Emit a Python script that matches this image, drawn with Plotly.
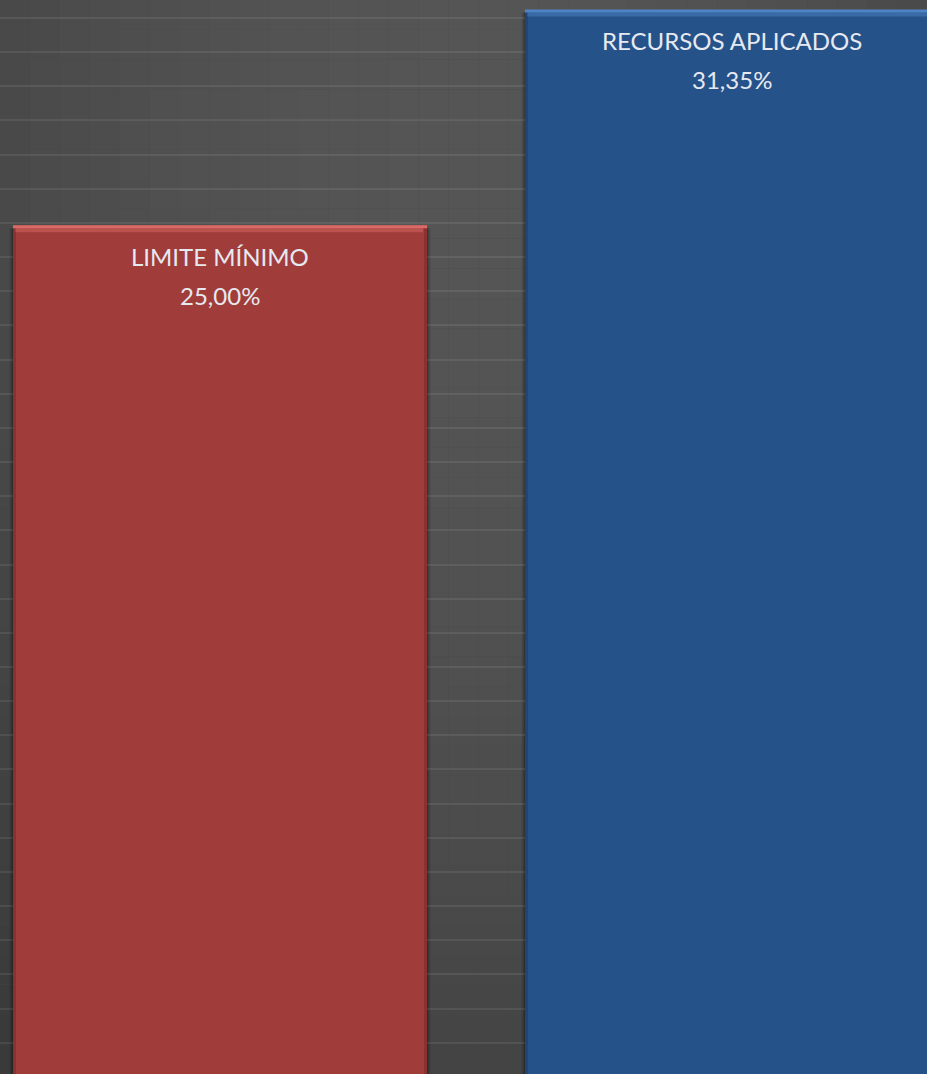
import math
import plotly.graph_objects as go

# Data
categories = ["LIMITE MÍNIMO", "RECURSOS APLICADOS"]
values = [25.00, 31.35]
bar_colors = ["#A03D3B", "#26528A"]
highlight_colors = ["#DA6E6A", "#5087C8"]


def pct_br(v):
    return f"{v:.2f}".replace(".", ",") + "%"


W, H = 927, 1074
x_range = [-0.4297, 1.3809]
y_range = [0.02, 31.63]
bar_width = 0.8086
px_x = (x_range[1] - x_range[0]) / W   # one pixel in x units
px_y = (y_range[1] - y_range[0]) / H   # one pixel in y units

fig = go.Figure()
fig.add_trace(go.Bar(
    x=list(range(len(categories))),
    y=values,
    width=bar_width,
    marker=dict(color=bar_colors, line=dict(width=0)),
    hoverinfo="skip",
    showlegend=False,
))

shapes = []

# Dark backdrop: lighter toward the upper middle, darker toward the lower left
nx, ny = 31, 36
for i in range(nx):
    for j in range(ny):
        px = (i + 0.5) / nx * W
        py = (1 - (j + 0.5) / ny) * H
        d = math.hypot(px - 475, 0.6 * (py - 150))
        g = int(round(85 - 5.6e-5 * d * d))
        g = max(58, min(85, g))
        shapes.append(dict(
            type="rect", xref="paper", yref="paper", layer="below",
            x0=i / nx, x1=(i + 1) / nx, y0=j / ny, y1=(j + 1) / ny,
            fillcolor=f"rgb({g},{g},{g})", line=dict(width=0),
        ))

for i, v in enumerate(values):
    half = bar_width / 2
    left, right = i - half, i + half
    # soft drop shadow just outside both sides
    for k, op in enumerate([0.35, 0.22, 0.12, 0.05]):
        for x0 in (left - (k + 1) * px_x, right + k * px_x):
            shapes.append(dict(
                type="rect", xref="x", yref="y", layer="below",
                x0=x0, x1=x0 + px_x, y0=y_range[0], y1=v - 3 * px_y,
                fillcolor="black", line=dict(width=0), opacity=op,
            ))
    # bevel highlight along the top edge
    shapes.append(dict(
        type="rect", xref="x", yref="y", layer="above",
        x0=left, x1=right, y0=v - 3 * px_y, y1=v,
        fillcolor=highlight_colors[i], line=dict(width=0), opacity=0.95,
    ))
    shapes.append(dict(
        type="rect", xref="x", yref="y", layer="above",
        x0=left + 2 * px_x, x1=right - 4 * px_x, y0=v - 7 * px_y, y1=v - 3 * px_y,
        fillcolor=highlight_colors[i], line=dict(width=0), opacity=0.45,
    ))
    # slightly shaded inner edges
    for x0 in (left, right - 3 * px_x):
        shapes.append(dict(
            type="rect", xref="x", yref="y", layer="above",
            x0=x0, x1=x0 + 3 * px_x, y0=y_range[0], y1=v - 3 * px_y,
            fillcolor="black", line=dict(width=0), opacity=0.15,
        ))

annotations = []
label_font = dict(family="Lato, Open Sans, sans-serif", size=24, color="#E6E9EF")
for i, (name, v) in enumerate(zip(categories, values)):
    annotations.append(dict(
        x=i, y=v, xref="x", yref="y", text=name, showarrow=False,
        yanchor="middle", yshift=-31, font=label_font,
    ))
    annotations.append(dict(
        x=i, y=v, xref="x", yref="y", text=pct_br(v), showarrow=False,
        yanchor="middle", yshift=-70, font=label_font,
    ))

fig.update_layout(
    width=W, height=H,
    margin=dict(l=0, r=0, t=0, b=0),
    paper_bgcolor="#4a4a4a",
    plot_bgcolor="rgba(0,0,0,0)",
    shapes=shapes,
    annotations=annotations,
    bargap=0,
    xaxis=dict(range=x_range, visible=False, fixedrange=True),
    yaxis=dict(
        range=y_range, showticklabels=False, zeroline=False,
        showgrid=True, gridcolor="rgba(255,255,255,0.08)", gridwidth=1.5,
        tick0=31.10, dtick=1.0053, fixedrange=True,
    ),
)

fig.write_html("out.html")
